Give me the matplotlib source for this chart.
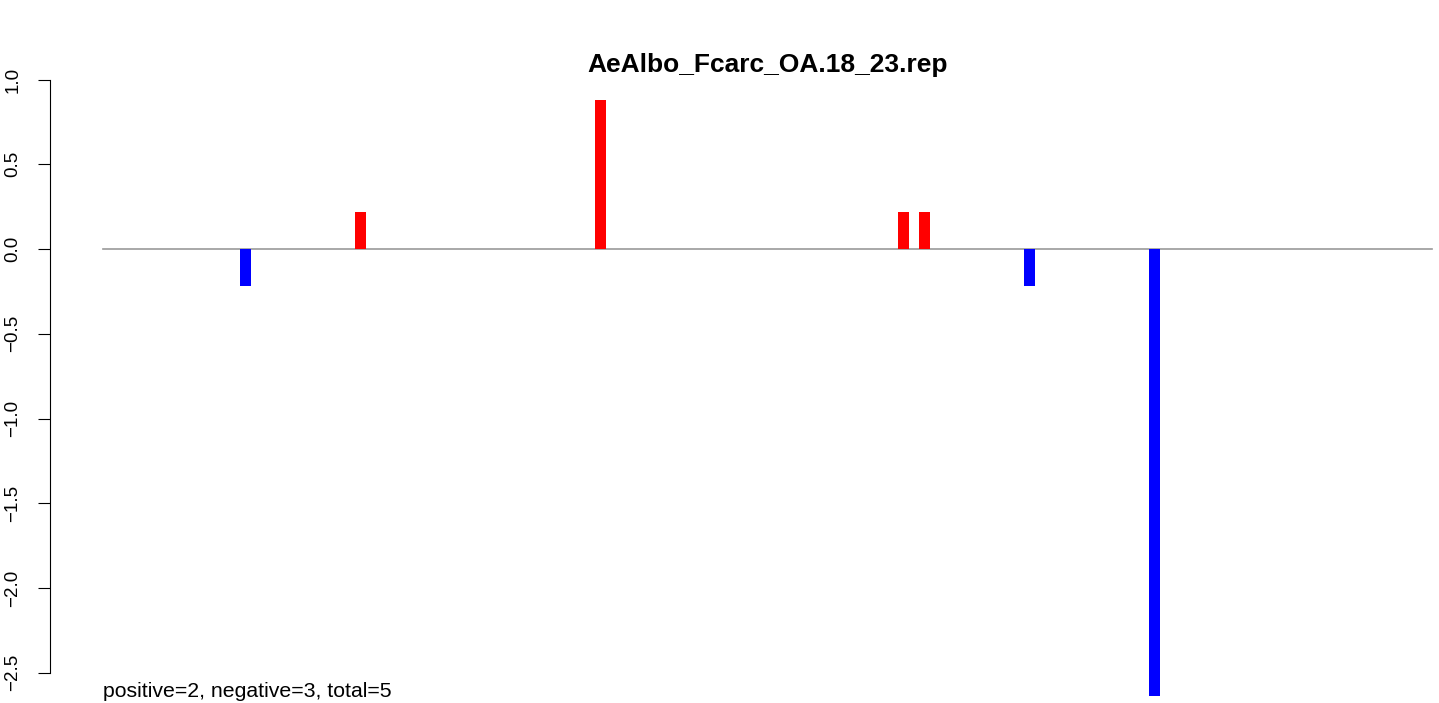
import numpy as np
import matplotlib.pyplot as plt

plt.rcParams['font.family'] = ['Liberation Sans', 'DejaVu Sans']

# bar positions (arbitrary x units) and log-ratio values
pos = [245.5, 360.5, 600.5, 903.5, 924.5, 1029.5, 1154.5]
vals = [-0.22, 0.22, 0.88, 0.22, 0.22, -0.22, -2.64]
line_x = [103, 1432]
title = "AeAlbo_Fcarc_OA.18_23.rep"
yticks = [-2.5, -2.0, -1.5, -1.0, -0.5, 0.0, 0.5, 1.0]
n_pos, n_neg, n_tot = 2, 3, 5

W, H = 1439, 703
fig = plt.figure(figsize=(W / 100, H / 100), dpi=100)
top_px = 60
ax = fig.add_axes([50 / W, 0, 1 - 50 / W, 1 - top_px / H])
ax.set_xlim(50, W)
ax.set_ylim(-(H - 249) / 169.5, (249 - top_px) / 169.5)

cols = ['red' if v > 0 else 'blue' for v in vals]
ax.plot(line_x, [0, 0], color='#999999', lw=1.2, zorder=1)
ax.bar(pos, vals, width=11, color=cols, zorder=2)

for s in ['top', 'right', 'bottom']:
    ax.spines[s].set_visible(False)
ax.spines['left'].set_bounds(-2.5, 1.0)
ax.spines['left'].set_linewidth(0.8)
ax.set_xticks([])
ax.set_yticks(yticks)
ax.set_yticklabels([('%.1f' % t).replace('-', '\u2212') for t in yticks],
                   rotation=90, va='center', fontsize=13.5)
ax.tick_params(axis='y', length=8.6, width=0.8, pad=12)

fig.text(767.5 / W, 1 - 72 / H, title, ha='center', va='baseline', fontsize=19, fontweight='bold')
fig.text(103 / W, 1 - 697 / H, 'positive=%d, negative=%d, total=%d' % (n_pos, n_neg, n_tot),
         ha='left', va='baseline', fontsize=15.3)

fig.savefig('out.png', dpi=100)
